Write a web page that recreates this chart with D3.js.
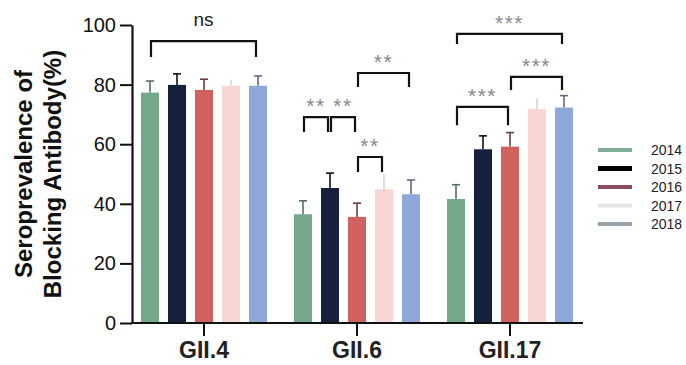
<!DOCTYPE html>
<html>
<head>
<meta charset="utf-8">
<script src="https://cdn.jsdelivr.net/npm/d3@7"></script>
<style>
  body { margin: 0; background: #fff; }
  svg { display: block; font-family: Arial, "Liberation Sans", sans-serif; }
</style>
</head>
<body>
<div id="chart"></div>
<script>
// chart data
const groups = ["GII.4", "GII.6", "GII.17"];
const years = ["2014", "2015", "2016", "2017", "2018"];
const means = {
  "GII.4":  [77.3, 79.9, 78.2, 79.6, 79.6],
  "GII.6":  [36.5, 45.3, 35.6, 44.9, 43.2],
  "GII.17": [41.6, 58.3, 59.2, 71.8, 72.3]
};
const upper = {
  "GII.4":  [81.2, 83.6, 81.8, 81.6, 82.9],
  "GII.6":  [41.0, 50.3, 40.2, 50.0, 48.0],
  "GII.17": [46.4, 62.8, 63.9, 75.4, 76.3]
};
const yTicks = [0, 20, 40, 60, 80, 100];
const barColors = ["#73a98a", "#15213c", "#d0615c", "#f8d6d3", "#8ea8da"];
const errColors = ["#55705f", "#111111", "#6e3b3a", "#e2cfcf", "#5c6a86"];
const legendColors = ["#7fae97", "#000000", "#8b4d5e", "#e6e3e5", "#9aa2ae"];

// significance brackets: group, from year, to year, top value, leg value, label
const brackets = [
  ["GII.4", "2014", "2018", 94.6, 89.3, "ns"],
  ["GII.6", "2014", "2015", 69.1, 64.1, "**"],
  ["GII.6", "2015", "2016", 69.1, 64.1, "**"],
  ["GII.6", "2016", "2017", 55.7, 50.7, "**"],
  ["GII.6", "2016", "2018", 83.9, 79.2, "**"],
  ["GII.17", "2014", "2018", 97.0, 93.6, "***"],
  ["GII.17", "2016", "2018", 82.6, 78.2, "***"],
  ["GII.17", "2014", "2016", 72.5, 66.4, "***"]
];

const width = 686, height = 365;
const axisX = 132;

const svg = d3.select("#chart").append("svg")
  .attr("width", width)
  .attr("height", height);

const y = d3.scaleLinear().domain([0, 100]).range([323, 25]);

const x0 = d3.scaleBand()
  .domain(groups)
  .range([127.5, 586.5])
  .paddingInner(27 / 153)
  .paddingOuter(13.5 / 153);

const x1 = d3.scaleBand()
  .domain(years)
  .range([0, x0.bandwidth()])
  .paddingInner(1 / 3);

const barCenter = (g, yr) => x0(g) + x1(yr) + x1.bandwidth() / 2;

// bars
const gBars = svg.append("g");
groups.forEach(g => {
  const rows = years.map((yr, i) => ({ g, yr, i, v: means[g][i], hi: upper[g][i] }));
  const grp = gBars.append("g");

  // error bars (upper only)
  grp.selectAll("line.err")
    .data(rows)
    .join("line")
    .attr("x1", d => barCenter(d.g, d.yr))
    .attr("x2", d => barCenter(d.g, d.yr))
    .attr("y1", d => y(d.v))
    .attr("y2", d => y(d.hi))
    .attr("stroke", d => errColors[d.i])
    .attr("stroke-width", 1.6);
  grp.selectAll("line.cap")
    .data(rows.filter(d => d.yr !== "2017"))
    .join("line")
    .attr("x1", d => barCenter(d.g, d.yr) - 4)
    .attr("x2", d => barCenter(d.g, d.yr) + 4)
    .attr("y1", d => y(d.hi))
    .attr("y2", d => y(d.hi))
    .attr("stroke", d => errColors[d.i])
    .attr("stroke-width", 1.6);

  grp.selectAll("rect")
    .data(rows)
    .join("rect")
    .attr("x", d => x0(d.g) + x1(d.yr))
    .attr("y", d => y(d.v))
    .attr("width", x1.bandwidth())
    .attr("height", d => y(0) - y(d.v))
    .attr("fill", d => barColors[d.i]);
});

// y axis
const yAxis = svg.append("g")
  .attr("transform", `translate(${axisX},0)`)
  .call(d3.axisLeft(y).tickValues(yTicks).tickSize(12).tickPadding(4).tickSizeOuter(0));
yAxis.select(".domain").attr("stroke", "#111").attr("stroke-width", 2.2);
yAxis.selectAll(".tick line").attr("stroke", "#111").attr("stroke-width", 2);
yAxis.selectAll(".tick text")
  .attr("fill", "#111")
  .style("font-size", "20px");

// x axis
svg.append("line")
  .attr("x1", axisX - 1).attr("x2", 583)
  .attr("y1", y(0)).attr("y2", y(0))
  .attr("stroke", "#111").attr("stroke-width", 2.2);
const xAxis = svg.append("g")
  .attr("transform", `translate(0,${y(0)})`)
  .call(d3.axisBottom(x0).tickSize(13).tickPadding(6).tickSizeOuter(0));
xAxis.select(".domain").remove();
xAxis.selectAll(".tick line").attr("stroke", "#111").attr("stroke-width", 2);
xAxis.selectAll(".tick text")
  .attr("fill", "#222")
  .style("font-size", "23px")
  .style("font-weight", "bold");

// y label
const yl = svg.append("text")
  .attr("transform", `translate(0,${(y(0) + y(100)) / 2}) rotate(-90)`)
  .attr("text-anchor", "middle")
  .style("font-size", "24px")
  .style("font-weight", "bold")
  .attr("fill", "#111");
yl.append("tspan").attr("x", 0).attr("y", 32).text("Seroprevalence of");
yl.append("tspan").attr("x", 0).attr("y", 61).text("Blocking Antibody(%)");

// significance brackets
const gSig = svg.append("g");
brackets.forEach(([g, a, b, top, leg, label]) => {
  const xa = barCenter(g, a) + 1, xb = barCenter(g, b) - 2;
  gSig.append("path")
    .attr("d", `M${xa},${y(leg)}V${y(top)}H${xb}V${y(leg)}`)
    .attr("fill", "none")
    .attr("stroke", "#111")
    .attr("stroke-width", 2.2);
  const isNs = label === "ns";
  gSig.append("text")
    .attr("x", (xa + xb) / 2)
    .attr("y", y(top) - (isNs ? 15 : 4))
    .attr("text-anchor", "middle")
    .attr("fill", isNs ? "#222" : "#888")
    .style("font-size", isNs ? "19px" : "21px")
    .style("letter-spacing", isNs ? "0px" : "1.5px")
    .text(label);
});

// legend
const legend = svg.append("g").attr("transform", "translate(598,150)");
years.forEach((yr, i) => {
  const row = legend.append("g").attr("transform", `translate(0,${i * 18.5})`);
  row.append("rect")
    .attr("x", 0).attr("y", i === 1 ? -2.5 : -2)
    .attr("width", 34).attr("height", i === 1 ? 5 : 4)
    .attr("fill", legendColors[i]);
  row.append("text")
    .attr("x", 53).attr("y", 0)
    .attr("dy", "0.36em")
    .attr("fill", "#222")
    .style("font-size", "14px")
    .text(yr);
});
</script>
</body>
</html>
